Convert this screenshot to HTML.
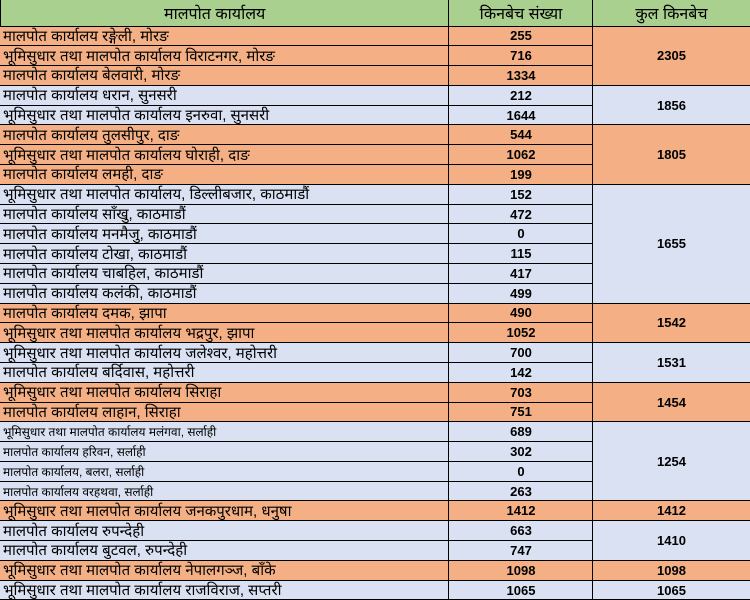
<!DOCTYPE html>
<html><head><meta charset="utf-8"><style>
body{margin:0;width:750px;height:600px;overflow:hidden;background:#fff;font-family:"Liberation Sans","DejaVu Sans",sans-serif;}
.c{position:absolute;box-sizing:border-box;border:1px solid #000;display:flex;align-items:center;font-size:15px;color:#000;overflow:hidden;white-space:nowrap;}
.l{padding-left:3px}
.m{justify-content:center;font-weight:bold;font-size:13px}
</style></head><body>
<div id="t"></div>
<script>
var groups=[
["o","2305",[["मालपोत कार्यालय रङ्गेली, मोरङ","255"],["भूमिसुधार तथा मालपोत कार्यालय विराटनगर, मोरङ","716"],["मालपोत कार्यालय बेलवारी, मोरङ","1334"]]],
["b","1856",[["मालपोत कार्यालय धरान, सुनसरी","212"],["भूमिसुधार तथा मालपोत कार्यालय इनरुवा, सुनसरी","1644"]]],
["o","1805",[["मालपोत कार्यालय तुलसीपुर, दाङ","544"],["भूमिसुधार तथा मालपोत कार्यालय घोराही, दाङ","1062"],["मालपोत कार्यालय लमही, दाङ","199"]]],
["b","1655",[["भूमिसुधार तथा मालपोत कार्यालय, डिल्लीबजार, काठमाडौं","152"],["मालपोत कार्यालय साँखु, काठमाडौं","472"],["मालपोत कार्यालय मनमैजु, काठमाडौं","0"],["मालपोत कार्यालय टोखा, काठमाडौं","115"],["मालपोत कार्यालय चाबहिल, काठमाडौं","417"],["मालपोत कार्यालय कलंकी, काठमाडौं","499"]]],
["o","1542",[["मालपोत कार्यालय दमक, झापा","490"],["भूमिसुधार तथा मालपोत कार्यालय भद्रपुर, झापा","1052"]]],
["b","1531",[["भूमिसुधार तथा मालपोत कार्यालय जलेश्वर, महोत्तरी","700"],["मालपोत कार्यालय बर्दिवास, महोत्तरी","142"]]],
["o","1454",[["भूमिसुधार तथा मालपोत कार्यालय सिराहा","703"],["मालपोत कार्यालय लाहान, सिराहा","751"]]],
["bs","1254",[["भूमिसुधार तथा मालपोत कार्यालय मलंगवा, सर्लाही","689"],["मालपोत कार्यालय हरिवन, सर्लाही","302"],["मालपोत कार्यालय, बलरा, सर्लाही","0"],["मालपोत कार्यालय वरहथवा, सर्लाही","263"]]],
["o","1412",[["भूमिसुधार तथा मालपोत कार्यालय जनकपुरधाम, धनुषा","1412"]]],
["b","1410",[["मालपोत कार्यालय रुपन्देही","663"],["मालपोत कार्यालय बुटवल, रुपन्देही","747"]]],
["o","1098",[["भूमिसुधार तथा मालपोत कार्यालय नेपालगञ्ज, बाँके","1098"]]],
["b","1065",[["भूमिसुधार तथा मालपोत कार्यालय राजविराज, सप्तरी","1065"]]]];
var h='',H=19.79,top0=25.5;
function cell(l,t,w,hh,bg,cls,txt,st){return '<div class="c '+cls+'" style="left:'+l+'px;top:'+t+'px;width:'+w+'px;height:'+hh+'px;background:'+bg+';'+(st||'')+'">'+txt+'</div>';}
var g='#A9D08E';
h+=cell(0,-1,450,top0+2,g,'','<span style="margin-left:163px;font-size:16px">मालपोत कार्यालय</span>');
h+=cell(448,-1,146,top0+2,g,'','<span style="margin:auto;font-size:16px">किनबेच संख्या</span>');
h+=cell(592,-1,159,top0+2,g,'','<span style="margin:auto;font-size:16px">कुल किनबेच</span>');
var r=0;
groups.forEach(function(G){
 var bg=G[0][0]=='o'?'#F4B084':'#D9E1F2',small=G[0]=='bs';
 var t0=top0+r*H;
 G[2].forEach(function(row,i){
  var t=top0+(r+i)*H;
  h+=cell(-1,t,451,H+1,bg,'l',row[0],small?'font-size:12px':'');
  h+=cell(448,t,146,H+1,bg,'m',row[1]);
 });
 h+=cell(592,t0,159,G[2].length*H+1,bg,'m',G[1]);
 r+=G[2].length;
});
document.getElementById('t').innerHTML=h;
</script>
</body></html>
